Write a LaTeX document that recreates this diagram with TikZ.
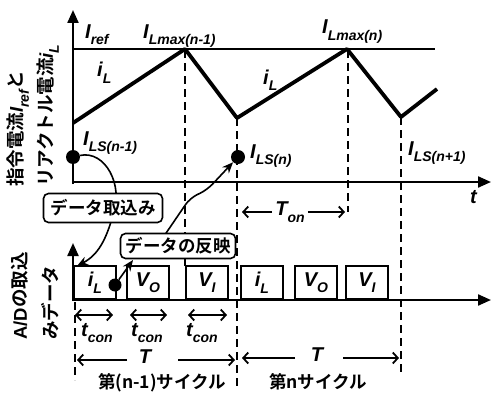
\documentclass[tikz,border=0pt]{standalone}
\usepackage{fontspec}
\setmainfont{Liberation Sans}
\newfontfamily\jp{Noto Sans CJK JP Bold}
\usetikzlibrary{arrows.meta,calc}
\newcommand\lv[2]{{\rmfamily\bfseries\itshape #1\raisebox{-0.32em}{\fontsize{14}{14}\selectfont #2}}}
\begin{document}
\begin{tikzpicture}[x=1pt,y=-1pt,
  lbl/.style={inner sep=0pt, font=\fontsize{20}{22}\selectfont},
  jlbl/.style={inner sep=0pt, font=\jp\fontsize{18.5}{20}\selectfont},
  wave/.style={line width=3.8pt, line join=round},
  dashline/.style={line width=2.6pt, dash pattern=on 8pt off 5pt},
  axis/.style={line width=2.2pt, -{Triangle[length=13pt,width=11pt]}},
  dim/.style={line width=1.8pt, {Straight Barb[length=5pt,width=11pt]}-{Straight Barb[length=5pt,width=11pt]}},
  rdim/.style={line width=1.8pt, -{Straight Barb[length=5pt,width=11pt]}},
  smpl/.style={draw, line width=1.8pt, fill=white, minimum width=42pt, minimum height=33pt, inner sep=0pt, anchor=south west, font=\fontsize{20}{22}\selectfont},
  callout/.style={draw, line width=1.6pt, rounded corners=5pt, fill=white, inner sep=0pt, font=\jp\fontsize{17.5}{18}\selectfont},
  dot/.style={circle, fill=black, inner sep=0pt, minimum size=14pt},
  conn/.style={line width=1.6pt, -{Stealth[length=11pt,width=9pt]}}]
\useasboundingbox (0,0) rectangle (492,396);

% dashed guide lines
\draw[dashline] (185,50) -- (185,267);
\draw[dashline] (237,118) -- (237,387);
\draw[dashline] (348,50) -- (348,212);
\draw[dashline] (401,117) -- (401,373);
\draw[dashline] (75,302) -- (75,380);

% reference line and waveform
\draw[line width=2pt] (73,49) -- (435,49);
\draw[wave] (73,123) -- (185,49) -- (237,118) -- (347,49) -- (401,117) -- (437,89);

% axes
\draw[axis] (73,184) -- (73,10);
\draw[axis] (72,182) -- (491,182);
\draw[axis] (73,301) -- (73,243);
\draw[axis] (72,300) -- (491,300);

% top labels
\node[lbl, anchor=base west] (iref) at (85,38) {\lv{I}{ref}};
\node[lbl, anchor=base west] (lmax1) at (143,38) {\lv{I}{Lmax(n-1)}};
\node[lbl, anchor=base west] (lmax2) at (322,34) {\lv{I}{Lmax(n)}};
\node[lbl, anchor=base west] (il1) at (97,77) {\lv{i}{L}};
\node[lbl, anchor=base west] (il2) at (263,84) {\lv{i}{L}};
\node[lbl, anchor=base west] (ls1) at (83,145) {\lv{I}{LS(n-1)}};
\node[lbl, anchor=base west] (ls2) at (250,158) {\lv{I}{LS(n)}};
\node[lbl, anchor=base west] (ls3) at (408,155) {\lv{I}{LS(n+1)}};
\node[lbl, anchor=base west] (tt) at (470,203) {\lv{t}{}};

% axis titles
\node[jlbl, rotate=90, anchor=west] (ytitle1) at (18,187) {指令電流\lv{I}{ref}と};
\node[jlbl, rotate=90, anchor=west] (ytitle2) at (48,187) {リアクトル電流\lv{i}{L}};
\node[jlbl, rotate=90, anchor=west] (btitle1) at (20,340) {{\rmfamily\bfseries A/D}の取込};
\node[jlbl, rotate=90, anchor=west] (btitle2) at (50,340) {みデータ};

% T_on
\node[lbl] (ton) at (290,212) {\lv{T}{on}};
\coordinate (ton1) at (242,212);
\coordinate (ton2) at (345,212);
\draw[rdim] (ton.west) ++(-3,0) -- (ton1);
\draw[rdim] (ton.east) ++(3,0) -- (ton2);

% sample boxes
\node[smpl] (s1) at (73,300) {\lv{i}{L}};
\node[smpl] (s2) at (126,300) {\lv{V}{O}};
\node[smpl] (s3) at (185,300) {\lv{V}{I}};
\node[smpl] (s4) at (240,300) {\lv{i}{L}};
\node[smpl] (s5) at (294,300) {\lv{V}{O}};
\node[smpl] (s6) at (345,300) {\lv{V}{I}};

% dots
\node[dot] (d1) at (73,157) {};
\node[dot] (d2) at (238,157) {};
\node[dot, minimum size=13pt] (d3) at (115,285) {};

% connectors behind callouts
\coordinate (a1) at (77,266);
\draw[conn] (d1) .. controls (105,150) and (124,185) .. (113,215) .. controls (106,240) and (98,255) .. (a1);
\coordinate (a2) at (133,260);
\draw[conn] (d3) -- (a2);
\coordinate (b0) at (160,242);
\coordinate (b1) at (190,198);
\coordinate (b2) at (207,190);
\draw[conn, rounded corners=8pt] (b0) -- (b1) -- (b2) -- (d2);

% callouts
\node[callout, minimum width=119pt, minimum height=29pt] (c1) at (103,208) {データ取込み};
\node[callout, minimum width=115pt, minimum height=25pt] (c2) at (178,246) {データの反映};

% t_con
\coordinate (tc1a) at (75,315); \coordinate (tc1b) at (113,315);
\coordinate (tc2a) at (130,315); \coordinate (tc2b) at (167,315);
\coordinate (tc3a) at (188,315); \coordinate (tc3b) at (227,315);
\draw[dim] (tc1a) -- (tc1b);
\draw[dim] (tc2a) -- (tc2b);
\draw[dim] (tc3a) -- (tc3b);
\node[lbl] (tcl1) at (97,333) {\lv{t}{con}};
\node[lbl] (tcl2) at (147,333) {\lv{t}{con}};
\node[lbl] (tcl3) at (202,333) {\lv{t}{con}};

% periods T
\node[lbl] (T1) at (145,360) {\lv{T}{}};
\coordinate (T1a) at (77,360); \coordinate (T1b) at (235,360);
\draw[rdim] (127,360) -- (T1a);
\draw[rdim] (178,360) -- (T1b);
\node[lbl] (T2) at (317,358) {\lv{T}{}};
\coordinate (T2a) at (242,358); \coordinate (T2b) at (399,358);
\draw[rdim] (295,358) -- (T2a);
\draw[rdim] (343,358) -- (T2b);

% cycle labels
\node[inner sep=0pt, font=\jp\fontsize{17.5}{18}\selectfont] (cy1) at (162,383) {第(n-1)サイクル};
\node[inner sep=0pt, font=\jp\fontsize{17.5}{18}\selectfont] (cy2) at (318,382) {第nサイクル};
\end{tikzpicture}
\end{document}
